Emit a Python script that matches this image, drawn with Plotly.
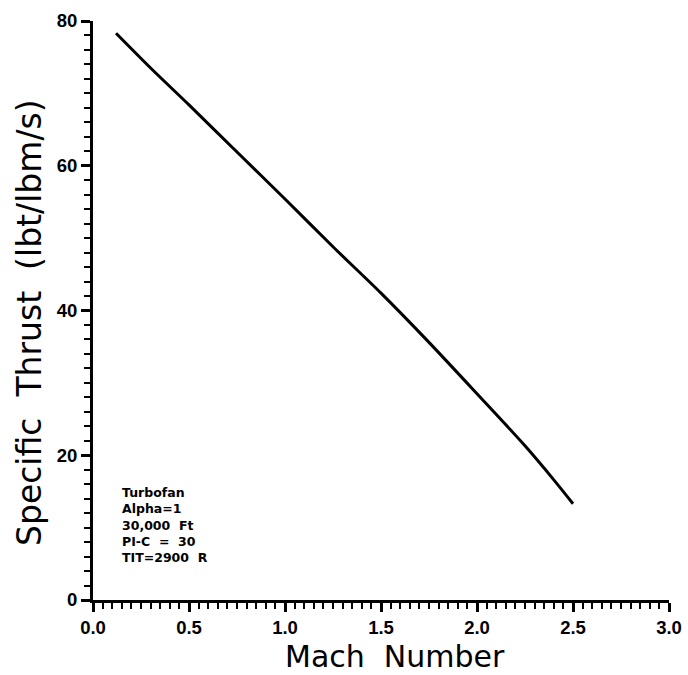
import plotly.graph_objects as go

mach = [0.12, 0.3, 0.5, 0.75, 1.0, 1.25, 1.5, 1.75, 2.0, 2.25, 2.4, 2.5]
thrust = [78.3, 73.5, 68.4, 61.9, 55.4, 48.8, 42.4, 35.6, 28.5, 21.3, 16.6, 13.3]

x_ticks = [0.0, 0.5, 1.0, 1.5, 2.0, 2.5, 3.0]
x_labels = ["0.0", "0.5", "1.0", "1.5", "2.0", "2.5", "3.0"]
y_ticks = [0, 20, 40, 60, 80]
y_labels = ["0", "20", "40", "60", "80"]

x_title = "Mach  Number"
y_title = "Specific  Thrust  (lbt/lbm/s)"
note_lines = ["Turbofan", "Alpha=1", "30,000  Ft", "PI-C  =  30", "TIT=2900  R"]

W, H = 688, 675
L, R, T, B = 93, 19, 21, 75
PW, PH = W - L - R, H - T - B


def px_x(px):
    return (px - L) / PW


def px_y(py):
    return (H - B - py) / PH


fig = go.Figure()
fig.add_trace(go.Scatter(x=mach, y=thrust, mode="lines",
                         line=dict(color="black", width=3, shape="spline", smoothing=0.8),
                         showlegend=False))

tickfont = dict(family="Liberation Sans, Arial", size=18.5, color="black", weight="bold")

fig.update_layout(
    width=W, height=H,
    margin=dict(l=L, r=R, t=T, b=B, autoexpand=False),
    paper_bgcolor="white", plot_bgcolor="white",
    xaxis=dict(range=[0, 3.0], tickvals=x_ticks, ticktext=x_labels, automargin=False,
               ticks="outside", ticklen=9, tickwidth=2.5, tickcolor="black",
               showline=True, linewidth=3, linecolor="black", showgrid=False, zeroline=False,
               tickfont=tickfont,
               minor=dict(dtick=0.05, tick0=0, ticks="outside", ticklen=6, tickwidth=2, tickcolor="black", showgrid=False)),
    yaxis=dict(range=[0, 80], tickvals=y_ticks, ticktext=y_labels, automargin=False,
               ticks="outside", ticklen=9, tickwidth=2.5, tickcolor="black",
               showline=True, linewidth=3, linecolor="black", showgrid=False, zeroline=False,
               tickfont=tickfont,
               minor=dict(dtick=2, tick0=0, ticks="outside", ticklen=6, tickwidth=2, tickcolor="black", showgrid=False)),
)

# axis titles
fig.add_annotation(x=px_x(395), y=px_y(675), xref="paper", yref="paper",
                   xanchor="center", yanchor="bottom", text=x_title, showarrow=False,
                   borderpad=0, font=dict(family="DejaVu Sans", size=30, color="black"))
fig.add_annotation(x=px_x(29), y=px_y(323), xref="paper", yref="paper",
                   xanchor="center", yanchor="middle", text=y_title, showarrow=False,
                   textangle=-90, font=dict(family="DejaVu Sans", size=33, color="black"))

# note block
fig.add_annotation(x=px_x(120), y=px_y(525), xref="paper", yref="paper",
                   xanchor="left", yanchor="middle", text="<br>".join(note_lines),
                   showarrow=False, align="left",
                   font=dict(family="DejaVu Sans", size=12.5, color="black", weight="bold"))

fig.write_html("out.html")
